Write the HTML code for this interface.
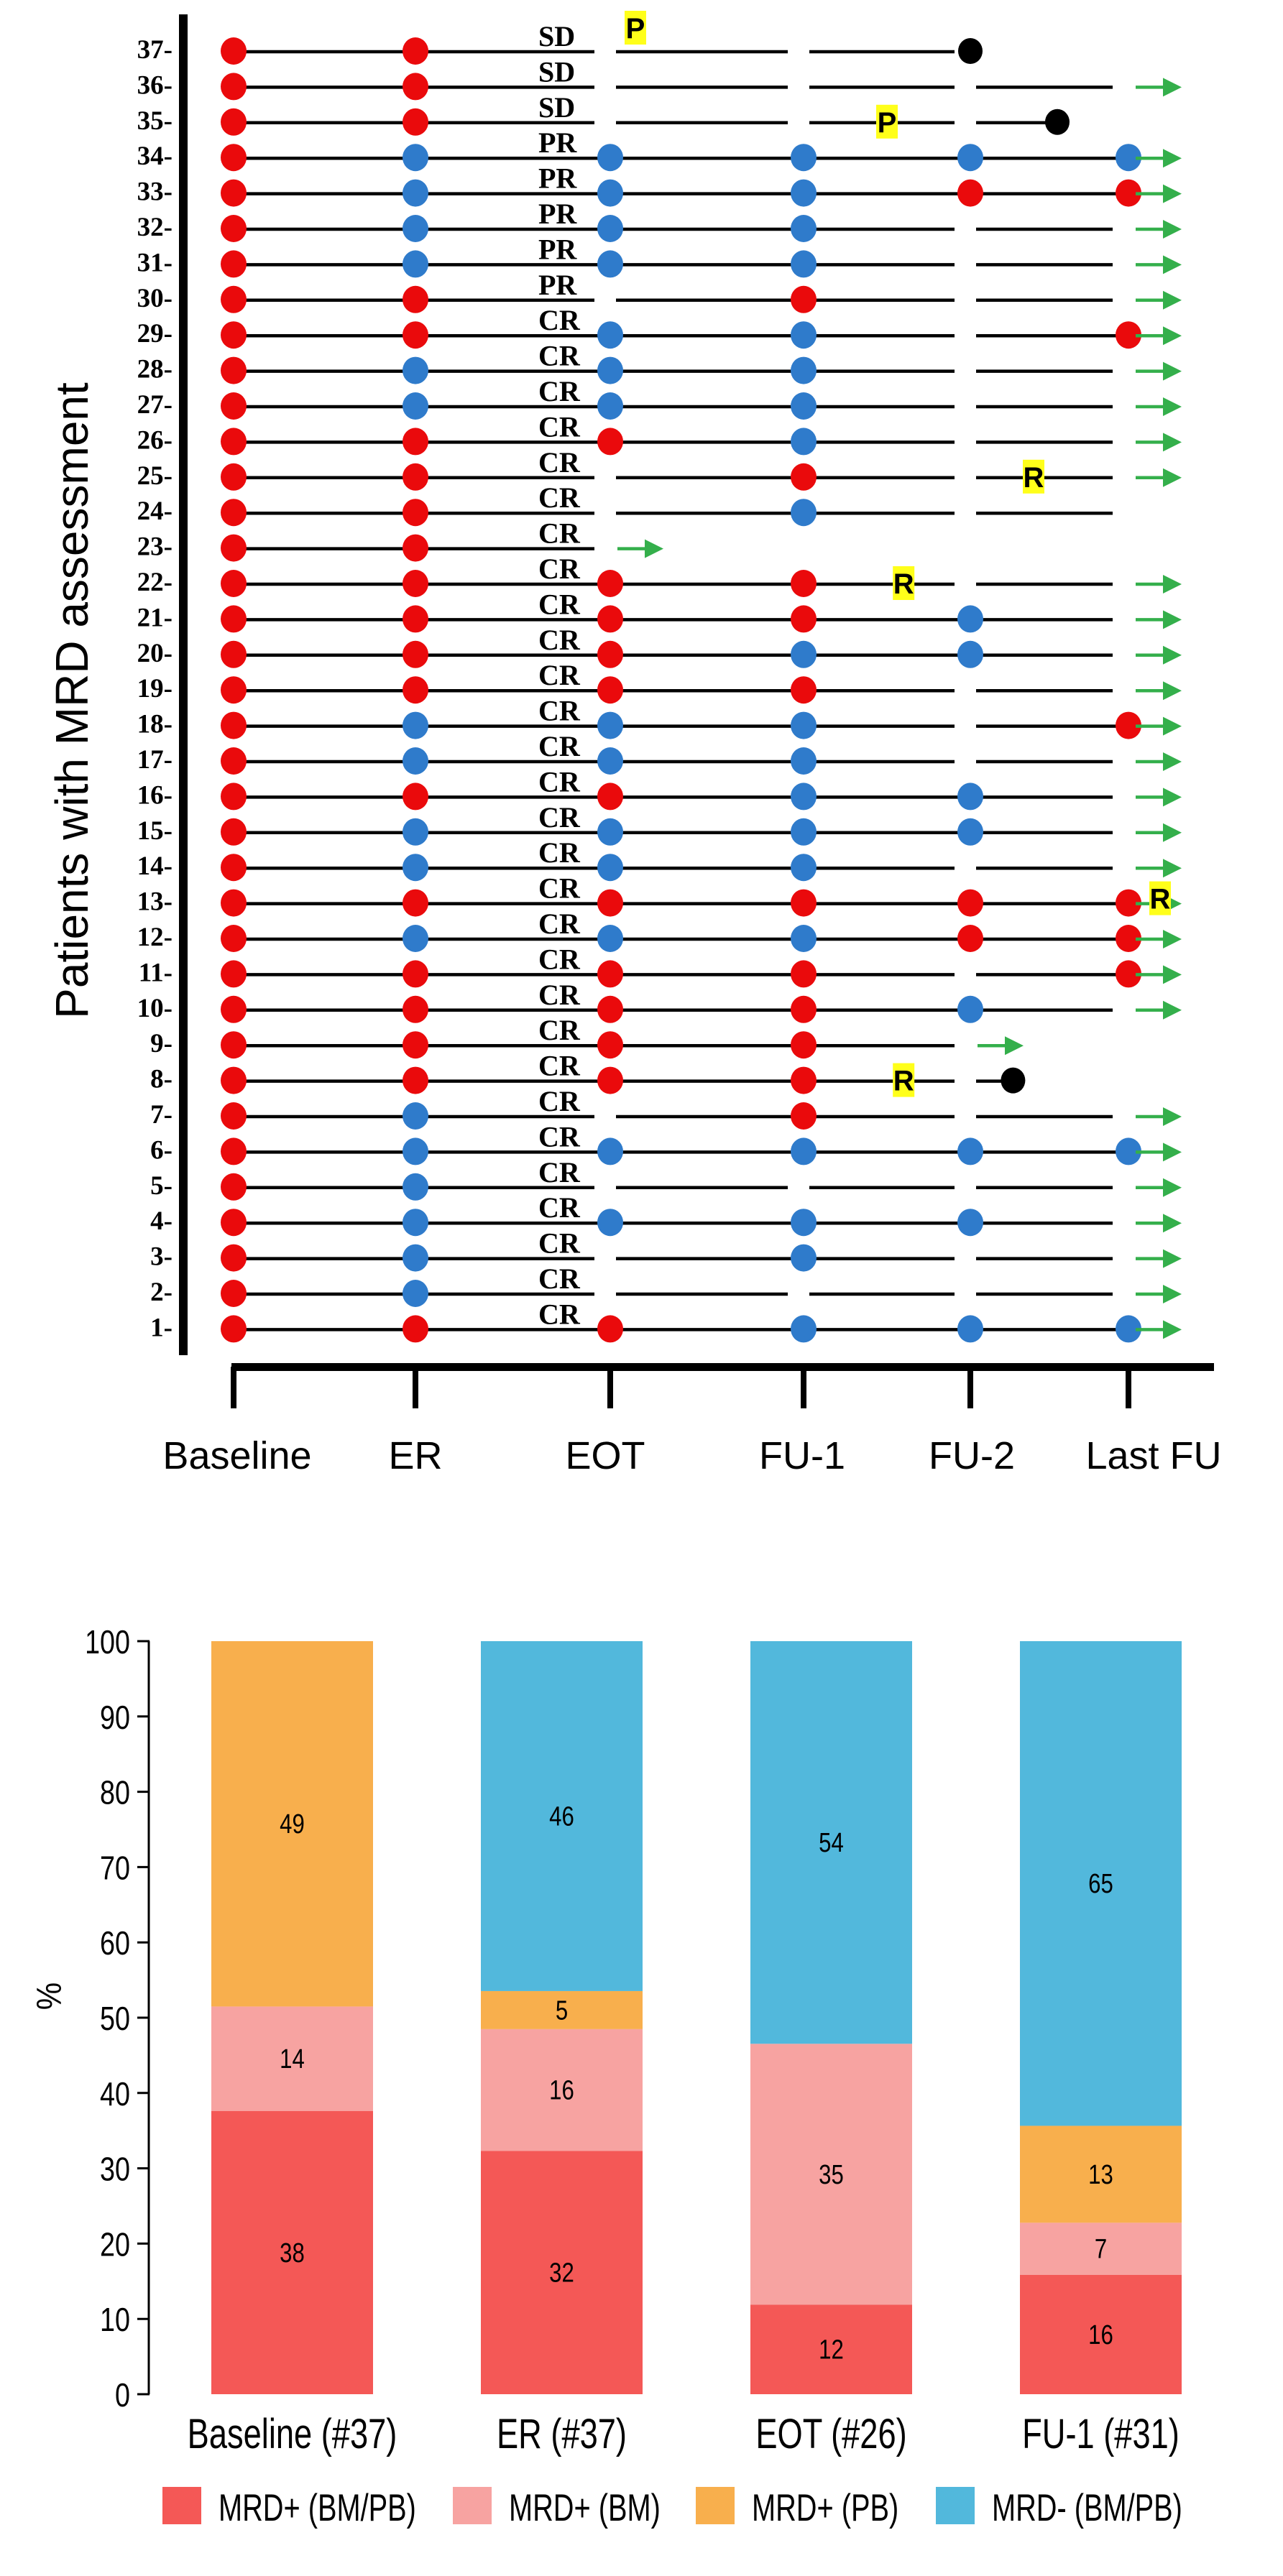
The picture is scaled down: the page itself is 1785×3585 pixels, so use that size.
<!DOCTYPE html>
<html><head><meta charset="utf-8"><style>
html,body{margin:0;padding:0;background:#fff;}
svg{display:block;}
</style></head><body>
<svg id="root" width="1785" height="3585" viewBox="0 0 1785 3585" xmlns="http://www.w3.org/2000/svg">
<rect width="1785" height="3585" fill="#fff"/>
<g id="swimmer"></g>
<g id="bars"></g>
</svg>
<script>
// ===== Swimmer plot data =====
const timepoints = ["Baseline","ER","EOT","FU-1","FU-2","Last FU"];
const patientIds = [37,36,35,34,33,32,31,30,29,28,27,26,25,24,23,22,21,20,19,18,17,16,15,14,13,12,11,10,9,8,7,6,5,4,3,2,1];
const responses = ["SD","SD","SD","PR","PR","PR","PR","PR","CR","CR","CR","CR","CR","CR","CR","CR","CR","CR","CR","CR","CR","CR","CR","CR","CR","CR","CR","CR","CR","CR","CR","CR","CR","CR","CR","CR","CR"];
const mrdStatus = ["rr----","rr----","rr----","rbbbbb","rbbbrr","rbbb--","rbbb--","rr-r--","rrbb-r","rbbb--","rbbb--","rrrb--","rr-r--","rr-b--","rr----","rrrr--","rrrrb-","rrrbb-","rrrr--","rbbb-r","rbbb--","rrrbb-","rbbbb-","rbbb--","rrrrrr","rbbbrr","rrrr-r","rrrrb-","rrrr--","rrrr--","rb-r--","rbbbbb","rb----","rbbbb-","rb-b--","rb----","rrrbbb"];
const endTypes = ["dot","arrow","dot","arrow","arrow","arrow","arrow","arrow","arrow","arrow","arrow","arrow","arrow","none","arrow","arrow","arrow","arrow","arrow","arrow","arrow","arrow","arrow","arrow","arrow","arrow","arrow","arrow","arrow","dot","arrow","arrow","arrow","arrow","arrow","arrow","arrow"];
const endPos = [4,5,4.55,5,5,5,5,5,5,5,5,5,5,5,2,5,5,5,5,5,5,5,5,5,5,5,5,5,4,4.27,5,5,5,5,5,5,5];
const markerRows = [37,35,25,22,8,13];
const markerChars = ["P","P","R","R","R","R"];
const markerPos = [2.13,3.5,4.4,3.6,3.6,5.2];
const markerLift = [32,0,0,0,0,6];

// ===== Bar chart data =====
const barCategories = ["Baseline (#37)","ER (#37)","EOT (#26)","FU-1 (#31)"];
const seriesNames = ["MRD+ (BM/PB)","MRD+ (BM)","MRD+ (PB)","MRD- (BM/PB)"];
const sRedBMPB = [38,32,12,16];
const sPinkBM = [14,16,35,7];
const sOrangePB = [49,5,0,13];
const sBlueNeg = [0,46,54,65];
const yTicks = [0,10,20,30,40,50,60,70,80,90,100];

const NS="http://www.w3.org/2000/svg";
function mk(parent,tag,attrs,text){const e=document.createElementNS(NS,tag);for(const k in attrs)e.setAttribute(k,attrs[k]);if(text!==undefined)e.textContent=text;parent.appendChild(e);return e;}

// ---------- swimmer ----------
const sw=document.getElementById('swimmer');
const colX=[325,578,849,1118,1350,1570];
function xCol(c){const i=Math.min(Math.floor(c),4);const f=c-i;return colX[i]+(colX[i+1]-colX[i])*f;}
function yRow(n){return 69+(37-n)*49.4;}
const RED="#EA0A0C",BLUE="#2F7BCB",GREEN="#34AF4B";

let e;
e=mk(sw,'rect',{x:249,y:20,width:12,height:1866,fill:'#000'});


e=mk(sw,'rect',{x:322,y:1897,width:1367,height:11,fill:'#000'});


timepoints.forEach((t,i)=>{
  const tk=mk(sw,'rect',{x:colX[i]-4,y:1902,width:8,height:58,fill:'#000'});
  
  
  const lblX=[330,578,842,1116,1352,1605][i];
  const tl=mk(sw,'text',{x:lblX,y:2044,'text-anchor':'middle','font-family':'Liberation Sans, Arial, sans-serif','font-size':54,fill:'#000'},t);
  
  
});
e=mk(sw,'text',{transform:'translate(100,975) rotate(-90)','text-anchor':'middle','dominant-baseline':'central','font-family':'Liberation Sans, Arial, sans-serif','font-size':64,fill:'#000'},'Patients with MRD assessment');



patientIds.forEach((pid,r)=>{
  const y=yRow(pid);
  const g=mk(sw,'g',{});
  
  
  const lab=mk(g,'text',{x:240,y:y+12,'text-anchor':'end','font-family':'Liberation Serif, Times New Roman, serif','font-weight':'bold','font-size':37,fill:'#000'},pid+'-');
  
  
  const st=mrdStatus[r];
  const et=endTypes[r], ep=endPos[r];
  const lastInt=Math.floor(ep);
  const segs=[];
  for(let c=0;c<lastInt;c++){
    const x1=colX[c]+(st[c]==='-'?8:0);
    const x2=colX[c+1]-(st[c+1]==='-'?22:0);
    segs.push([x1,x2]);
  }
  if(et==='dot' && ep>lastInt){
    segs.push([colX[lastInt]+(st[lastInt]==='-'?8:0), xCol(ep)]);
  }
  segs.forEach(s=>{
    const l=mk(g,'line',{x1:s[0],y1:y+3,x2:s[1],y2:y+3,stroke:'#000','stroke-width':4.5});
    
    
  });
  const rl=mk(g,'text',{x:749,y:y-5,'font-family':'Liberation Serif, Times New Roman, serif','font-weight':'bold','font-size':40,fill:'#000'},responses[r]);
  
  
  for(let c=0;c<6;c++){
    if(st[c]==='-')continue;
    const d=mk(g,'ellipse',{cx:colX[c],cy:y+2,rx:18,ry:19,fill:st[c]==='r'?RED:BLUE});
    
    
  }
  if(et==='arrow'){
    const ax=xCol(ep)+10;
    const al=mk(g,'line',{x1:ax,y1:y+3,x2:ax+40,y2:y+3,stroke:GREEN,'stroke-width':4.5});
    
    
    const ah=mk(g,'polygon',{points:`${ax+38},${y-10} ${ax+64},${y+3} ${ax+38},${y+16}`,fill:GREEN});
    
    
  } else if(et==='dot'){
    const bd=mk(g,'ellipse',{cx:xCol(ep),cy:y+2,rx:17,ry:18,fill:'#000'});
    
    
  }
});
markerRows.forEach((pid,i)=>{
  const cx=xCol(markerPos[i]);
  const cy=yRow(pid)+2-markerLift[i];
  const g=mk(sw,'g',{});
  
  
  mk(g,'rect',{x:cx-15,y:cy-24,width:30,height:47,fill:'#FFFF1A'});
  mk(g,'text',{x:cx,y:cy+14,'text-anchor':'middle','font-family':'Liberation Sans, Arial, sans-serif','font-weight':'bold','font-size':40,fill:'#000'},markerChars[i]);
});

// ---------- stacked bars ----------
const bg=document.getElementById('bars');
const Y0=3332,Y100=2284;
function yv(v){return Y0-(Y0-Y100)*v/100;}
const barCx=[406.5,781.5,1156.5,1531.5];
const BW=225;
const colors=["#F45856","#F7A3A1","#F8AF4D","#52B8DC"];
const series=[sRedBMPB,sPinkBM,sOrangePB,sBlueNeg];

e=mk(bg,'line',{x1:207,y1:yv(0),x2:207,y2:yv(100),stroke:'#000','stroke-width':3});


yTicks.forEach(t=>{
  const tk=mk(bg,'line',{x1:191,y1:yv(t),x2:208,y2:yv(t),stroke:'#000','stroke-width':3});
  
  
  const tl=mk(bg,'text',{transform:`translate(181,${yv(t)+17}) scale(0.82,1)`,'text-anchor':'end','font-family':'Liberation Sans, Arial, sans-serif','font-size':46,fill:'#000'},String(t));
  
  
});
e=mk(bg,'text',{transform:'translate(68,2778) rotate(-90) scale(0.9,1)','text-anchor':'middle','dominant-baseline':'central','font-family':'Liberation Sans, Arial, sans-serif','font-size':48,fill:'#000'},'%');



barCategories.forEach((cat,i)=>{
  const total=series.reduce((a,s)=>a+s[i],0);
  let acc=0;
  series.forEach((s,k)=>{
    const v=s[i];
    if(v<=0)return;
    const p0=acc/total*100, p1=(acc+v)/total*100;
    acc+=v;
    const r=mk(bg,'rect',{x:barCx[i]-BW/2,y:yv(p1),width:BW,height:yv(p0)-yv(p1),fill:colors[k]});
    
    
    const t=mk(bg,'text',{transform:`translate(${barCx[i]},${(yv(p0)+yv(p1))/2+13}) scale(0.82,1)`,'text-anchor':'middle','font-family':'Liberation Sans, Arial, sans-serif','font-size':38,fill:'#000'},String(v));
    
    
  });
  const cl=mk(bg,'text',{transform:`translate(${barCx[i]},3407) scale(0.78,1)`,'text-anchor':'middle','font-family':'Liberation Sans, Arial, sans-serif','font-size':58,fill:'#000'},cat);
  
  
});
const legSqX=[226,630,968,1302];
seriesNames.forEach((n,k)=>{
  const g=mk(bg,'g',{});
  
  
  mk(g,'rect',{x:legSqX[k],y:3461,width:54,height:52,fill:colors[k]});
  mk(g,'text',{transform:`translate(${legSqX[k]+78},3508) scale(0.75,1)`,'font-family':'Liberation Sans, Arial, sans-serif','font-size':53,fill:'#000'},n);
});
</script>
</body></html>
